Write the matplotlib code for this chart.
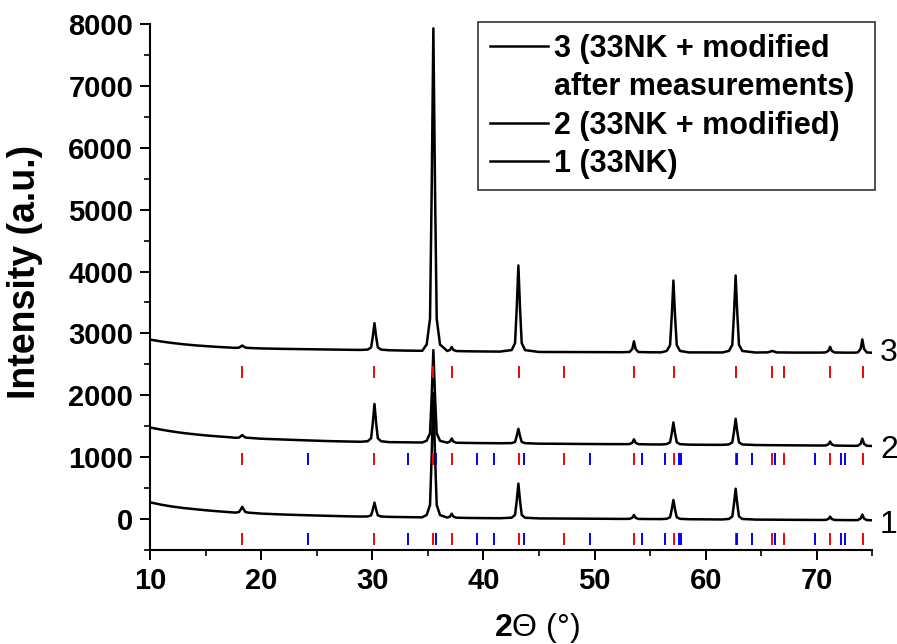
import matplotlib
matplotlib.use("Agg")
import matplotlib.pyplot as plt
from matplotlib.lines import Line2D
from matplotlib.ticker import MultipleLocator

plt.rcParams["font.family"] = ["Liberation Sans", "DejaVu Sans"]
plt.rcParams["mathtext.fontset"] = "custom"
plt.rcParams["mathtext.rm"] = "Liberation Sans"
plt.rcParams["mathtext.bf"] = "Liberation Sans:bold"

# 2theta grid (deg), shared by the three patterns
two_theta = [
    10, 11, 12, 13, 14, 15, 16, 17,
    17.7, 18.0, 18.15, 18.3, 18.45, 18.6, 18.9,
    20, 22, 24, 26, 28, 29,
    29.6, 29.9, 30.05, 30.2, 30.35, 30.5, 30.8,
    31.5, 33, 34.5,
    34.9, 35.2, 35.35, 35.5, 35.65, 35.8, 36.1,
    36.75, 37.0, 37.15, 37.3, 37.55,
    38.5, 40, 41.5,
    42.55, 42.85, 43.0, 43.15, 43.3, 43.45, 43.75,
    45, 47, 49, 51, 52.5,
    53.15, 53.4, 53.55, 53.7, 53.95,
    55, 56,
    56.5, 56.8, 56.95, 57.1, 57.25, 57.4, 57.7,
    58.5, 60, 61.5,
    62.1, 62.4, 62.55, 62.7, 62.85, 63.0, 63.3,
    64.5, 65.6, 66.0, 66.4, 68, 70.4,
    70.8, 71.05, 71.2, 71.35, 71.6,
    72.5, 73.4,
    73.7, 73.95, 74.1, 74.25, 74.5,
    75,
]

# 1 (33NK)
intensity_1 = [
    270, 232, 202, 178, 160, 142, 127, 113,
    104, 112, 150, 197, 150, 112, 103,
    88, 73, 62, 52, 43, 40,
    42, 60, 151, 265, 151, 60, 41,
    35, 31, 28,
    66, 227, 1031, 2036, 1031, 227, 64,
    23, 41, 86, 40, 22,
    18, 15, 13,
    22, 67, 291, 572, 291, 67, 21,
    10, 8, 6, 4, 2,
    3, 21, 66, 20, 2,
    0, -1,
    4, 29, 153, 308, 153, 29, 3,
    -3, -5, -7,
    2, 42, 241, 490, 241, 42, 1,
    -9, -10, -10, -11, -13, -15,
    -14, 1, 39, 0, -15,
    -17, -18,
    -16, 9, 73, 8, -17,
    -20,
]

# 2 (33NK + modified)
intensity_2 = [
    1480, 1445, 1415, 1390, 1370, 1352, 1337, 1324,
    1313, 1316, 1334, 1357, 1334, 1316, 1312,
    1298, 1285, 1272, 1260, 1252, 1249,
    1258, 1307, 1553, 1860, 1553, 1307, 1257,
    1243, 1240, 1237,
    1266, 1385, 1983, 2730, 1983, 1385, 1264,
    1234, 1253, 1302, 1252, 1233,
    1230, 1227, 1225,
    1227, 1246, 1340, 1458, 1340, 1246, 1226,
    1218, 1216, 1213, 1211, 1210,
    1211, 1233, 1289, 1232, 1210,
    1206, 1205,
    1211, 1240, 1382, 1561, 1382, 1240, 1210,
    1202, 1200, 1199,
    1206, 1240, 1409, 1620, 1409, 1240, 1205,
    1196, 1194, 1194, 1193, 1191, 1188,
    1189, 1207, 1252, 1206, 1188,
    1185, 1183,
    1185, 1217, 1300, 1216, 1184,
    1180,
]

# 3 (33NK + modified after measurements)
intensity_3 = [
    2900, 2870, 2845, 2825, 2808, 2795, 2783, 2773,
    2766, 2770, 2785, 2805, 2785, 2770, 2765,
    2757, 2750, 2745, 2740, 2735, 2733,
    2739, 2774, 2948, 3165, 2948, 2774, 2738,
    2728, 2722, 2719,
    2822, 3239, 5324, 7930, 5324, 3239, 2820,
    2716, 2734, 2779, 2733, 2715,
    2711, 2708, 2706,
    2731, 2843, 3400, 4098, 3400, 2843, 2730,
    2700, 2699, 2698, 2697, 2696,
    2700, 2748, 2873, 2747, 2699,
    2695, 2694,
    2717, 2810, 3274, 3854, 3274, 2810, 2716,
    2693, 2693, 2692,
    2717, 2816, 3314, 3935, 3314, 2816, 2716,
    2691, 2694, 2716, 2693, 2690, 2690,
    2693, 2718, 2782, 2717, 2692,
    2689, 2689,
    2694, 2752, 2903, 2751, 2692,
    2688,
]

assert len(two_theta) == len(intensity_1) == len(intensity_2) == len(intensity_3)

# reference reflection positions (deg)
red_refs = [18.3, 30.15, 35.5, 37.2, 43.2, 47.3, 53.55, 57.15, 62.75,
            66.0, 67.05, 71.2, 74.2]
blue_refs = [24.2, 33.25, 35.75, 39.4, 41.0, 43.65, 49.6, 54.3, 56.3, 57.6,
             57.8, 62.85, 64.2, 66.25, 69.85, 72.2, 72.5]

# marker rows (ymin, ymax) under each pattern
row_3 = (2280, 2470)
row_2 = (875, 1075)
row_1 = (-425, -230)

curve_labels = ["1", "2", "3"]
curve_label_y = [-100, 1110, 2690]

fig = plt.figure(figsize=(8.97, 6.44), dpi=100)
ax = fig.add_axes([0.1672, 0.146, 0.8053, 0.8167])

l3, = ax.plot(two_theta, intensity_3, color="black", lw=1.8)
l2, = ax.plot(two_theta, intensity_2, color="black", lw=1.8)
l1, = ax.plot(two_theta, intensity_1, color="black", lw=1.8)

ax.vlines(red_refs, *row_3, color="#ff0000", lw=1.4)
for row in (row_2, row_1):
    ax.vlines(red_refs, *row, color="#ff0000", lw=1.4)
    ax.vlines(blue_refs, *row, color="#0000ff", lw=1.4)

for lab, y in zip(curve_labels, curve_label_y):
    ax.text(75.7, y, lab, fontsize=23, fontweight="normal", va="center",
            ha="left", clip_on=False)

ax.set_xlim(10, 75)
ax.set_ylim(-500, 8000)
ax.xaxis.set_major_locator(MultipleLocator(10))
ax.xaxis.set_minor_locator(MultipleLocator(5))
ax.yaxis.set_minor_locator(MultipleLocator(500))
ax.set_yticks(range(0, 8001, 1000))

for side in ("top", "right"):
    ax.spines[side].set_visible(False)
for side in ("left", "bottom"):
    ax.spines[side].set_linewidth(1.5)

ax.tick_params(which="major", direction="out", length=7, width=1.4, pad=5,
               labelsize=21)
ax.tick_params(which="minor", direction="out", length=4, width=1.2)
for lab in ax.get_xticklabels() + ax.get_yticklabels():
    lab.set_fontweight("bold")

ax.set_ylabel("Intensity (a.u.)", fontsize=27, fontweight="bold")
ax.yaxis.set_label_coords(-0.148, 0.528)
ax.set_xlabel(r"$\mathbf{2}\Theta$ (°)", fontsize=23)
ax.xaxis.set_label_coords(0.536, -0.116)

blank = Line2D([], [], color="none")
leg = ax.legend([l3, blank, l2, l1],
                ["3 (33NK + modified", "after measurements)",
                 "2 (33NK + modified)", "1 (33NK)"],
                loc="upper left", bbox_to_anchor=(0.454, 0.003, 0.5497, 1.0),
                mode="expand", borderaxespad=0, frameon=True, fancybox=False,
                edgecolor="black", handlelength=1.9, handletextpad=0.2,
                labelspacing=0.27, borderpad=0.38,
                prop={"size": 22, "weight": "bold"})
leg.get_frame().set_linewidth(1.2)

fig.savefig("out.png", dpi=100)
